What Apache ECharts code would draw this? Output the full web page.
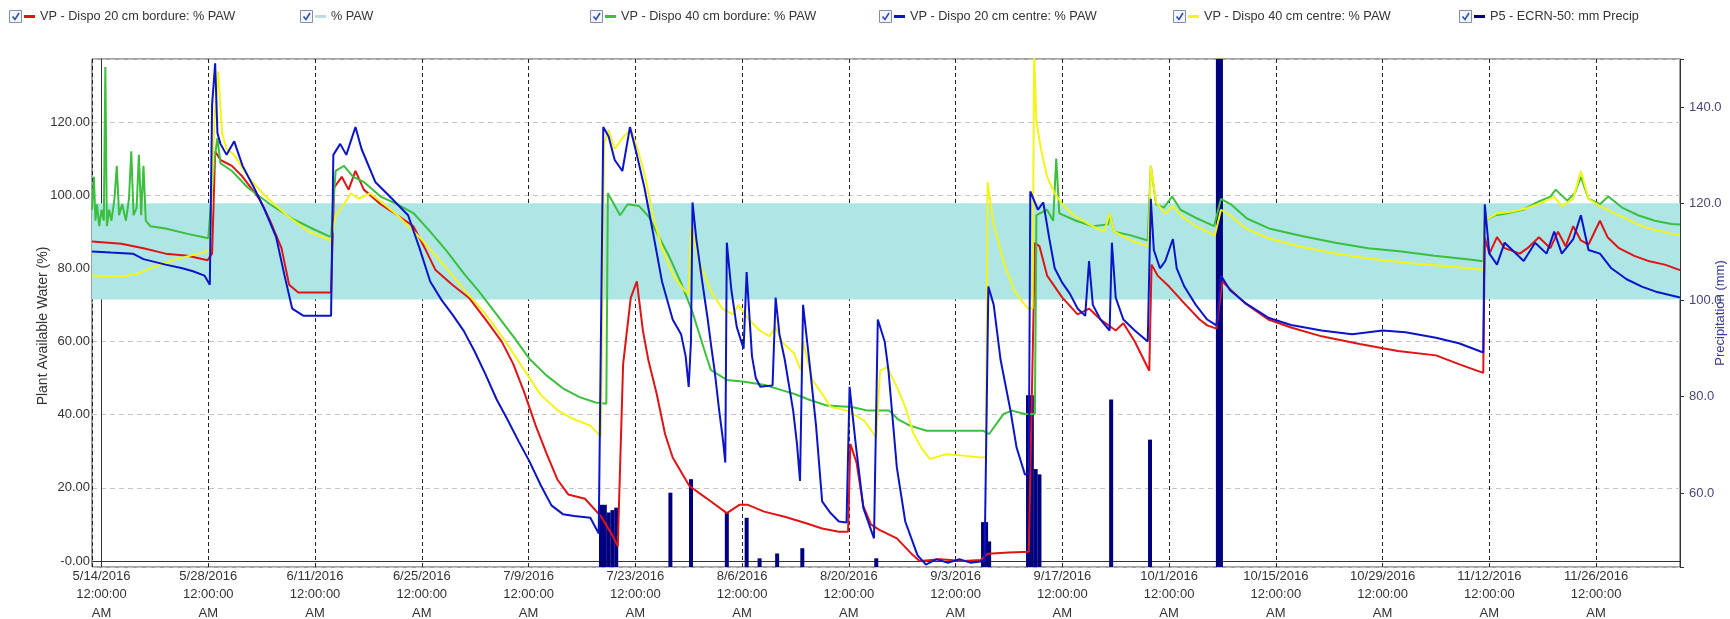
<!DOCTYPE html>
<html>
<head>
<meta charset="utf-8">
<script src="https://cdn.jsdelivr.net/npm/echarts@6/dist/echarts.min.js"></script>
<style>
html,body{margin:0;padding:0;background:#fff;}
#chart{width:1730px;height:619px;}
</style>
</head>
<body>
<div id="chart"></div>
<script>
// x values are days since 5/14/2016 12:00:00 AM
const startDate = Date.UTC(2016, 4, 14);
const xRange = [-1.25, 207];
const leftRange = [-1.64, 137.2];
const rightRange = [44.7, 150];
const pawBand = [71.5, 97.8];

const seriesNames = [
  'VP - Dispo 20 cm bordure: % PAW',
  '% PAW',
  'VP - Dispo 40 cm bordure: % PAW',
  'VP - Dispo 20 cm centre: % PAW',
  'VP - Dispo 40 cm centre: % PAW',
  'P5 - ECRN-50: mm Precip'
];

const red20bordure = [[-1.25,87.3],[2.6,86.7],[5.5,85.5],[8.4,84],[11.3,83.4],[13.9,82.2],[14.5,84],[14.9,112],[15.6,109.6],[17.1,108],[18.5,105],[20.7,99],[22.1,93],[23.6,85.5],[24.6,75.5],[25.8,73.4],[30.1,73.4],[30.5,102],[31.5,105],[32.4,101.5],[33.3,106.6],[34.4,101.5],[36.6,97.5],[38.8,94.5],[40.9,91.5],[42.4,85.5],[43.8,79.5],[46,75.5],[48.2,71.9],[50.4,65.9],[52.5,59.9],[54,53.8],[55.4,46.3],[56.9,37.2],[58.3,29.7],[59.8,22.2],[61.2,18.2],[63.4,17],[65.5,12.2],[67,7],[67.7,4],[68.4,53.8],[69.4,71.9],[70.2,76.4],[71,62.9],[71.7,55],[72.8,45.7],[73.9,34.7],[74.9,28.3],[77.1,20.5],[79.3,17.2],[82,13.1],[83.7,15.4],[84.7,15.4],[86.9,13.5],[89.6,12.1],[92.4,10.3],[94.5,8.9],[96.7,8],[97.9,8],[98.2,32],[99,27],[99.9,15],[100.9,10],[102,8.5],[104.3,6.2],[106.2,2],[107.3,0],[110,0.5],[113,0],[115.3,0.3],[116.2,2],[119,2.3],[121.6,2.5],[122.4,87],[123,86],[124,78],[126,72],[128,67.4],[129.5,69],[131,66],[133,63],[134,65],[135.5,60],[137.4,52],[137.7,81],[138.5,78],[140,75],[142,70.4],[144,66],[145,64.4],[146.2,63.5],[147,76.4],[148,74.3],[150,70.4],[153,66],[156,63.8],[160,61.4],[165,59.3],[170,57.4],[175,56.2],[178,53.8],[180,52.3],[181.2,51.4],[181.4,88.5],[182,84],[183,88.5],[184,85.5],[186,84],[187,85.5],[188.5,88.5],[190,85.5],[191,90],[192,86],[193,91.5],[194,87.6],[195,86.5],[196.5,93],[197.5,88.5],[199,85.5],[201,83.4],[203,81.9],[205,81],[207,79.5]];

const green40bordure = [[-1.25,96],[-1,105],[-0.8,93],[-0.6,97.5],[-0.3,91.5],[0,96],[0.3,93],[0.5,135],[0.7,91.5],[1,96],[1.3,93],[1.7,99],[2,108],[2.3,94.5],[2.7,97.5],[3.2,93],[3.6,99],[3.9,112],[4.2,94.5],[4.6,96.5],[4.9,111],[5.2,94.5],[5.5,108],[5.8,93],[6.4,91.5],[8.4,90.9],[11.3,89.4],[14,88.2],[14.8,109.6],[15.2,115.6],[15.6,108.7],[17.1,106.6],[19.2,102],[22.1,97.5],[25,93.6],[27.9,90.6],[30.1,88.5],[30.7,106.6],[31.8,108],[33,105],[34.4,103.6],[36.6,99.6],[38.8,97.5],[40.9,95.1],[43.1,90],[45.3,84.6],[47.5,78.6],[49.6,73.4],[51.8,67.4],[54,61.4],[56.1,55.3],[58.3,50.8],[60.5,47.2],[62.7,44.8],[64.8,43.3],[66.2,43],[66.4,100.5],[67.2,97.5],[68,94.5],[69,97.5],[70.5,97],[71.8,94],[73,89],[74.5,83],[76,76],[77.5,68],[79,58],[79.9,52.2],[82,49.5],[84.3,49],[87,48.1],[89.2,46.7],[90.8,45.7],[92.9,44],[95.1,42.5],[98.4,42.1],[100.5,41.1],[103.3,41.1],[104.4,38.8],[106,37],[108.2,35.6],[113,35.6],[115.6,35.6],[116.4,34.7],[118.3,40.2],[119.4,41.1],[121.1,40.2],[122.4,40.2],[122.6,94.5],[124,96],[124.8,93],[125.2,110],[125.6,95],[127.8,93],[130,91.5],[132,92],[132.2,95],[132.8,90],[135,89],[137.2,87.6],[137.6,108],[138.3,97.5],[139.3,96.6],[140.4,99.6],[141.5,96],[143.7,93.6],[145.9,91.5],[146.8,99],[148.1,97.5],[150.2,93.6],[153.1,90.9],[157.4,88.8],[161.8,87],[166.1,85.5],[170.5,84.6],[174.8,83.4],[179.1,82.5],[181.2,81.9],[181.4,93],[182.8,94.5],[184.2,95],[186.4,96],[188.5,98.3],[190,99.6],[190.7,101.5],[192.2,98.5],[193.2,100.5],[194,105],[195,99],[196.5,97.5],[197.6,99.6],[199.4,96.6],[201.5,94.5],[203.7,93],[205.9,92.1],[207,92]];

const blue20centre = [[-1.25,84.6],[1.2,84.3],[4.1,84],[5.5,82.5],[8.4,81],[10.6,80],[12,79.2],[13.5,78],[14.2,75.5],[14.5,124.7],[14.9,136],[15.2,117],[15.6,114],[16.4,111],[17.4,114.7],[18.5,108],[20,102],[21.4,96],[22.9,88.5],[24,78],[25,69],[26.5,67],[30.1,67],[30.4,111],[31.3,114],[32.1,111],[33.3,118.6],[34.1,112.6],[35.9,103.6],[38.1,99],[40.2,94.5],[41.7,85.5],[43.1,76.4],[44.6,71.3],[46,67.4],[47.5,62.9],[48.9,57.4],[50.4,50.8],[51.8,44.2],[53.2,38.8],[54.7,32.7],[56.1,27.3],[57.6,20.7],[59,15.2],[60.5,12.8],[62,12.3],[64.1,11.8],[65.2,7.5],[65.8,118.6],[66.5,116],[67.3,109.6],[68.3,106.6],[69.3,118.6],[70.2,111],[71.2,102],[72.3,90],[73.5,76.4],[74.9,66],[76,62],[76.6,56],[77,47.6],[77.3,60],[77.5,98],[78,88],[78.8,76],[79.5,66],[80,58],[80.4,52],[81,41.1],[81.5,33],[81.8,26.9],[82,87],[82.6,74],[83.3,64],[84.2,58],[84.6,79],[85.3,56],[85.8,50],[86.4,47.6],[88,48],[88.4,72],[88.9,62],[89.6,55],[90.7,41.1],[91.2,32],[91.6,21.9],[92,70],[92.9,53],[93.7,37],[94.5,16.3],[95.6,13.1],[96.7,10.8],[97.7,10.5],[98.1,47.6],[98.9,32],[99.9,14.5],[101.3,6.2],[101.8,66],[102.7,60],[103.2,52],[104.3,25.5],[105.4,10.8],[107,1.6],[108.1,-1],[109.5,0.5],[111,-0.5],[112.5,0.5],[114,-0.5],[115.8,0],[116.3,75],[117,70],[117.9,55],[119.2,41.1],[120,31],[121.1,23.6],[121.6,24],[121.8,101],[122.8,96],[123.5,98],[124.3,88],[125,80],[126,76],[127,73],[128,69],[129,67],[129.5,82],[130,70],[131,66],[132.2,63],[132.5,87],[133,72],[134,66],[135.5,63],[137.2,60],[137.6,99],[138,85],[138.8,80],[139.5,82],[140.5,88],[141,80],[142,75],[143.5,70],[145,66],[146.2,64.4],[146.8,78],[148,74],[150,70.5],[153,66.5],[156,64.5],[160,63],[164,62],[168,63],[171,62.5],[175,61],[178,59.5],[181.2,57],[181.4,97.5],[182,84],[183,81],[184,87],[185,85],[186.5,82],[188,87],[189.5,84],[190.5,90],[191.5,84],[193,88],[194,94.5],[195,85],[196.5,84],[198,80],[200,77],[202,75],[204,73.5],[207,72]];

const yellow40centre = [[-1.25,78],[2.6,77.7],[4.8,78.6],[6.9,80.4],[9.8,82.5],[12.7,84],[14.2,85],[14.8,120],[15.3,133.8],[15.8,117],[16.4,112.6],[17.4,111],[19.2,105],[21.4,99.9],[24.3,94.5],[27.2,90],[30.1,87.6],[30.7,94.5],[31.8,97.5],[32.7,100.5],[33.7,99],[35.2,100.5],[36.6,98.3],[38.8,94.5],[41.7,88.5],[44.6,81.6],[47.5,74.3],[50.4,67.4],[53.2,59.3],[55.4,52.3],[57.6,45.4],[59.8,41.2],[61.9,38.8],[64.1,37],[65.5,34],[65.9,114],[66.5,117.8],[67.3,112.6],[68.3,115.6],[69.4,118],[70.3,112.6],[71.3,105],[72.3,94.5],[73.5,85.5],[75,78],[76.3,74.3],[77,73],[77.3,91.5],[78.5,81],[80,73.4],[81.4,69],[82.8,67.4],[83.5,70],[84.9,66],[86.3,63],[87.6,61.4],[88.4,64],[89.2,60],[90.8,56.8],[91.7,52.2],[92,60],[93.2,49.5],[94.5,45.7],[95.6,42.1],[97.8,41.1],[100,38.4],[101.6,33.8],[102.1,52],[103,53],[104.3,47.6],[105.4,42.1],[106.5,34.7],[107.5,31],[108.6,27.9],[110.8,29.2],[113,28.8],[115.4,28.3],[116,28.5],[116.2,103.6],[116.9,93],[118.4,81],[119.8,73.4],[121.5,69],[122.1,69],[122.3,139],[122.6,120],[123.2,112.6],[124,105],[125,100.5],[126,97.5],[127.5,94.5],[129.5,92],[131.5,90],[132.2,95],[132.8,90],[135,87.6],[137.3,86],[137.6,108],[138.3,98],[139.5,95],[140.5,97],[141.5,94.5],[143.5,91.5],[146,89],[146.8,96],[148,94.5],[150,91],[153,88.2],[157,86],[162,84],[167,82.5],[172,81.3],[177,80.5],[181.2,79.5],[181.4,93],[183,95],[185,95.5],[187,96.5],[189,98],[190.5,99.5],[191.5,97],[193,99],[194,106.6],[195,99],[196.5,97],[198,95.5],[200,93.5],[202,91.5],[204,90.3],[207,89]];

const precipMm = [[65.5,57.6],[66,57.6],[66.5,56],[67,56.5],[67.5,57],[74.6,60.1],[77.3,62.9],[82,55.9],[84.6,54.9],[86.3,46.5],[88.6,47.5],[91.9,48.6],[101.6,46.5],[115.6,54],[116,54],[116.4,50],[121.5,80.3],[122,80.3],[122.5,65],[123,63.9],[132.4,79.4],[137.5,71.1],[146.4,180],[146.8,180]];

const colors = ['#e01414', '#b9dede', '#3cbf3c', '#0c14c8', '#f4f41a', '#00007e'];

const FONT = "'Liberation Sans', Arial, sans-serif";

function dateLabel(v) {
  if (Math.abs(v % 14) > 1e-6) return '';
  const d = new Date(startDate + v * 86400000);
  return (d.getUTCMonth() + 1) + '/' + d.getUTCDate() + '/' + d.getUTCFullYear() + '\n12:00:00\nAM';
}

const checkLeft = [9, 300, 590, 879, 1173, 1459];
const legendLeft = checkLeft.map(x => x + 15);

const legends = seriesNames.map((n, i) => ({
  data: [n],
  left: legendLeft[i],
  top: 10,
  padding: 0,
  icon: 'rect',
  itemWidth: 11,
  itemHeight: 3,
  selectedMode: false,
  textStyle: {fontFamily: FONT, fontSize: 12.7, color: '#333'}
}));

const checkboxes = checkLeft.map(x => ({
  type: 'group',
  left: x,
  top: 10,
  children: [
    {type: 'rect', shape: {x: 0, y: 0, width: 12, height: 12},
     style: {fill: '#f4f6fb', stroke: '#7f8fae', lineWidth: 1}},
    {type: 'polyline', shape: {points: [[3, 6], [5.5, 9], [9.5, 2.5]]},
     style: {stroke: '#2f4fb0', lineWidth: 1.6, fill: null}}
  ]
}));

const lineSeries = (name, data, color) => ({
  name, type: 'line', data, xAxisIndex: 0, yAxisIndex: 0,
  showSymbol: false, symbol: 'none',
  lineStyle: {color, width: 2},
  itemStyle: {color},
  clip: true, silent: true
});

const chart = echarts.init(document.getElementById('chart'), null, {renderer: 'canvas'});
chart.setOption({
  animation: false,
  backgroundColor: '#ffffff',
  legend: legends,
  graphic: checkboxes,
  grid: {left: 92, right: 50, top: 59, bottom: 52, containLabel: false, outerBoundsMode: 'none',
         show: true, borderColor: '#444', borderWidth: 1, backgroundColor: 'transparent'},
  xAxis: {
    type: 'value', min: xRange[0], max: xRange[1], minInterval: 14, maxInterval: 14,
    axisLine: {show: true, lineStyle: {color: '#333'}},
    axisTick: {show: false},
    axisLabel: {formatter: dateLabel, showMinLabel: false, showMaxLabel: false, fontFamily: FONT, fontSize: 13, color: '#333', lineHeight: 18.5, margin: 0},
    splitLine: {show: true, lineStyle: {color: '#222', type: [4, 3], width: 1}}
  },
  yAxis: [{
    type: 'value', min: leftRange[0], max: leftRange[1], minInterval: 20, maxInterval: 20,
    name: 'Plant Available Water (%)', nameLocation: 'middle', nameGap: 42, nameRotate: 90, nameMoveOverlap: false,
    nameTextStyle: {fontFamily: FONT, fontSize: 14, color: '#333', padding: [0, 26, 0, 0]},
    axisLine: {show: true, lineStyle: {color: '#333'}},
    axisTick: {show: false},
    axisLabel: {formatter: v => (Math.abs(v % 20) > 1e-6 ? '' : (v === 0 ? '-0.00' : v.toFixed(2))), fontFamily: FONT, fontSize: 13, color: '#333', margin: 2},
    splitLine: {show: true, lineStyle: {color: '#c4c4c4', type: [5, 4], width: 1}}
  }, {
    type: 'value', min: rightRange[0], max: rightRange[1], minInterval: 20, maxInterval: 20, position: 'right',
    name: 'Precipitation (mm)', nameLocation: 'middle', nameGap: 34, nameRotate: 90, nameMoveOverlap: false,
    nameTextStyle: {fontFamily: FONT, fontSize: 13, color: '#3c3c96'},
    axisLine: {show: true, lineStyle: {color: '#333'}},
    axisTick: {show: true, inside: false, length: 4, lineStyle: {color: '#333'}},
    axisLabel: {formatter: v => (Math.abs(v % 20) > 1e-6 ? '' : v.toFixed(1)), fontFamily: FONT, fontSize: 13, color: '#46467a', margin: 9},
    splitLine: {show: false}
  }],
  series: [
    {
      name: seriesNames[1], type: 'line', data: [], yAxisIndex: 0, showSymbol: false,
      lineStyle: {color: colors[1]}, itemStyle: {color: colors[1]}, silent: true,
      markArea: {silent: true, itemStyle: {color: '#aee6e6', opacity: 1},
        data: [[{yAxis: pawBand[0]}, {yAxis: pawBand[1]}]]}
    },
    lineSeries(seriesNames[0], red20bordure, colors[0]),
    lineSeries(seriesNames[2], green40bordure, colors[2]),
    lineSeries(seriesNames[4], yellow40centre, colors[4]),
    lineSeries(seriesNames[3], blue20centre, colors[3]),
    {
      name: seriesNames[5], type: 'bar', data: precipMm, xAxisIndex: 0, yAxisIndex: 1,
      barWidth: 4, itemStyle: {color: colors[5]}, clip: true, silent: true
    }
  ]
});
</script>
</body>
</html>
